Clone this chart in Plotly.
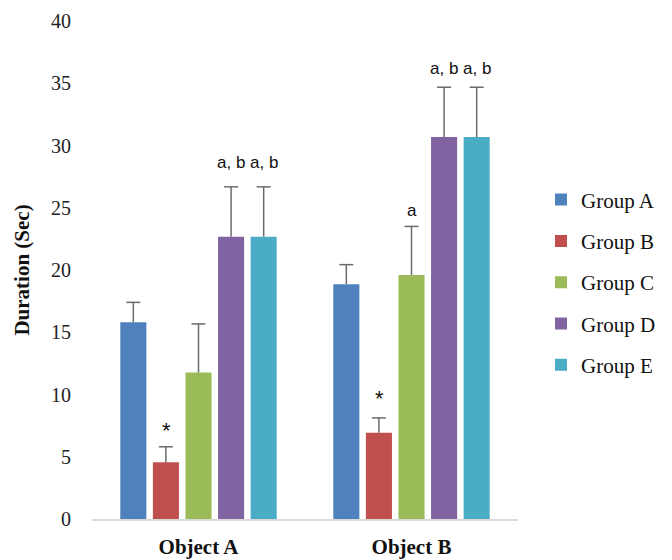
import plotly.graph_objects as go

categories = ["Object A", "Object B"]
groups = ["Group A", "Group B", "Group C", "Group D", "Group E"]
means = {
    "Group A": [15.8, 18.86],
    "Group B": [4.56, 6.92],
    "Group C": [11.77, 19.6],
    "Group D": [22.68, 30.68],
    "Group E": [22.68, 30.68],
}
errors = {
    "Group A": [1.6, 1.57],
    "Group B": [1.24, 1.2],
    "Group C": [3.9, 3.9],
    "Group D": [4.0, 4.0],
    "Group E": [4.0, 4.0],
}
labels = {
    "Group B": ["*", "*"],
    "Group C": ["", "a"],
    "Group D": ["a, b", "a, b"],
    "Group E": ["a, b", "a, b"],
}
# vertical offsets (px) of labels above the error-bar caps
label_shift = {
    "Group B": [2, 5],
    "Group C": [0, 4],
    "Group D": [13, 7],
    "Group E": [13, 7],
}
colors = ["#4F81BD", "#C0504D", "#9BBB59", "#8064A2", "#4BACC6"]

SERIF = "Liberation Serif, Times New Roman, serif"
ERR = "#6b6b6b"

fig = go.Figure()
for g, c in zip(groups, colors):
    fig.add_trace(go.Bar(
        name=g, x=categories, y=means[g], marker_color=c,
        marker_line_width=0, legendgroup=g, offsetgroup=g,
        error_y=dict(type="data", symmetric=False, array=errors[g],
                     arrayminus=[0, 0], color=ERR, thickness=1.5, width=0),
    ))
# caps on top of the whiskers only
for g in groups:
    tops = [m + e for m, e in zip(means[g], errors[g])]
    fig.add_trace(go.Scatter(
        x=categories, y=tops, mode="markers", offsetgroup=g,
        marker=dict(symbol="line-ew", size=10, color=ERR,
                    line=dict(color=ERR, width=1.5)),
        showlegend=False, hoverinfo="skip",
    ))

slot = 32.5
for gi, g in enumerate(groups):
    if g not in labels:
        continue
    for ci, cat in enumerate(categories):
        t = labels[g][ci]
        if not t:
            continue
        top = means[g][ci] + errors[g][ci]
        star = t == "*"
        fig.add_annotation(
            x=cat, y=top, yanchor="bottom", xshift=(gi - 2) * slot,
            yshift=label_shift[g][ci], text=t, showarrow=False,
            font=dict(family="Liberation Sans, Arial", size=22 if star else 17,
                      color="#111"),
        )

fig.update_layout(
    width=672, height=560,
    margin=dict(l=84, r=162, t=13, b=49),
    paper_bgcolor="white", plot_bgcolor="white",
    barmode="group", bargap=0.235, bargroupgap=0.2,
    scattermode="group", scattergap=0.235,
    font=dict(family=SERIF, color="#222"),
    legend=dict(x=1.054, y=0.475, yanchor="middle", xanchor="left",
                font=dict(size=21, family=SERIF, color="#111"),
                tracegroupgap=11, itemwidth=30, bgcolor="rgba(0,0,0,0)"),
    showlegend=True,
)
fig.update_yaxes(range=[0, 40], dtick=5, showgrid=False, showline=False,
                 zeroline=False, ticks="", ticklabelstandoff=20, automargin=False,
                 ticklabeloverflow="allow",
                 tickfont=dict(size=20, family=SERIF, color="#222"),
                 title=dict(text="<b>Duration (Sec)</b>", standoff=15,
                            font=dict(size=21, family=SERIF, color="#111")))
fig.update_xaxes(showline=True, linecolor="#d9d9d9", linewidth=1.5, ticks="",
                 ticklabelstandoff=8, automargin=False, ticklabeloverflow="allow",
                 tickfont=dict(size=21, family=SERIF, color="#111"),
                 tickvals=categories, ticktext=["<b>Object A</b>", "<b>Object B</b>"])

fig.write_html("out.html")
